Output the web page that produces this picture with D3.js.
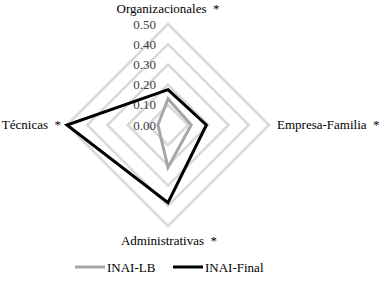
<!DOCTYPE html>
<html>
<head>
<meta charset="UTF-8">
</head>
<body style="margin:0">
<svg width="387" height="282"></svg>
<script src="https://d3js.org/d3.v7.min.js"></script>
<script>
    const axes = ["Organizacionales  *", "Empresa-Familia  *", "Administrativas  *", "Técnicas  *"];
    const inaiLB = [0.13, 0.115, 0.21, 0.05];
    const inaiFinal = [0.175, 0.19, 0.385, 0.50];
    const ticks = [0.0, 0.1, 0.2, 0.3, 0.4, 0.5];
    const seriesNames = ["INAI-LB", "INAI-Final"];
    const seriesColors = ["#a6a6a6", "#000000"];

    const svg = d3.select("svg");
    const cx = 168, cy = 125;

    const r = d3.scaleLinear().domain([0, 0.5]).range([0, 101]);
    const angle = i => -Math.PI / 2 + i * 2 * Math.PI / axes.length;
    const pt = (v, i) => [cx + r(v) * Math.cos(angle(i)), cy + r(v) * Math.sin(angle(i))];

    // grid
    svg.selectAll(".grid")
        .data(ticks.filter(t => t > 0))
        .enter().append("polygon")
        .attr("points", t => axes.map((_, i) => pt(t, i).join(",")).join(" "))
        .attr("fill", "none")
        .attr("stroke", "#d9d9d9")
        .attr("stroke-width", 2.5);

    // tick labels
    svg.selectAll(".tick")
        .data(ticks)
        .enter().append("text")
        .attr("x", cx - 12)
        .attr("y", t => cy - r(t) + 4.5)
        .attr("text-anchor", "end")
        .attr("fill", "#404040")
        .style("font-family", d => `"Tinos"`)
        .style("font-size", "13px")
        .text(t => t.toFixed(2));

    // series
    const line = d3.line().curve(d3.curveLinearClosed);
    [inaiLB, inaiFinal].forEach((vals, k) => {
        svg.append("path")
            .attr("d", line(vals.map((v, i) => pt(v, i))))
            .attr("fill", "none")
            .attr("stroke", seriesColors[k])
            .attr("stroke-width", 3)
            .attr("stroke-linejoin", "miter");
    });

    // axis labels
    const labelPos = [
        { x: cx, y: 13, anchor: "middle" },
        { x: 277, y: 129, anchor: "start" },
        { x: cx + 1, y: 245, anchor: "middle" },
        { x: 61, y: 129, anchor: "end" }
    ];
    svg.selectAll(".axisLabel")
        .data(axes)
        .enter().append("text")
        .attr("x", (d, i) => labelPos[i].x)
        .attr("y", (d, i) => labelPos[i].y)
        .attr("text-anchor", (d, i) => labelPos[i].anchor)
        .attr("fill", "#000")
        .style("font-family", d => `"Tinos"`)
        .style("font-size", "13px")
        .style("white-space", "pre")
        .text(d => d);

    // legend
    const legendX = [75, 173];
    const legend = svg.selectAll(".legend")
        .data(seriesNames)
        .enter().append("g")
        .attr("transform", (d, i) => `translate(${legendX[i]},267)`);
    legend.append("line")
        .attr("x1", 0).attr("x2", 30)
        .attr("stroke", (d, i) => seriesColors[i])
        .attr("stroke-width", 3);
    legend.append("text")
        .attr("x", 32)
        .attr("y", 5)
        .style("font-family", d => `"Tinos"`)
        .style("font-size", "13px")
        .text(d => d);
</script>
</body>
</html>
